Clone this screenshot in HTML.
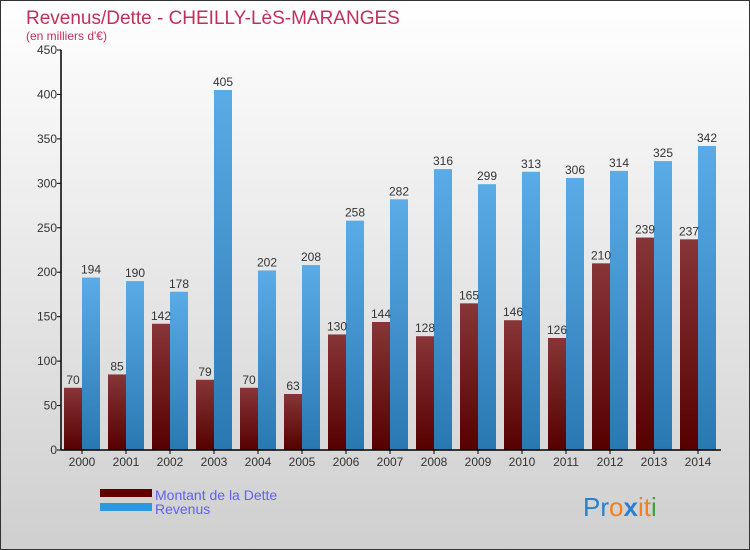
<!DOCTYPE html>
<html><head><meta charset="utf-8"><style>
body{margin:0}
#c{width:750px;height:550px;position:relative;overflow:hidden;font-family:"Liberation Sans",sans-serif}
svg text{font-family:"Liberation Sans",sans-serif}
</style></head><body>
<div id="c">
<svg id="s" width="750" height="550" xmlns="http://www.w3.org/2000/svg">
<defs>
<linearGradient id="bg" x1="0" y1="0" x2="0" y2="1"><stop offset="0" stop-color="#ffffff"/><stop offset="1" stop-color="#cfcfcf"/></linearGradient>
<linearGradient id="gd" x1="0" y1="0" x2="0" y2="1"><stop offset="0" stop-color="#883538"/><stop offset="1" stop-color="#560000"/></linearGradient>
<linearGradient id="gr" x1="0" y1="0" x2="0" y2="1"><stop offset="0" stop-color="#5aabe6"/><stop offset="1" stop-color="#2a78b2"/></linearGradient>
</defs>
<rect x="0.5" y="0.5" width="749" height="549" fill="url(#bg)" stroke="#333"/>
<text x="26" y="24" font-size="19" fill="#c0305a">Revenus/Dette - CHEILLY-LèS-MARANGES</text>
<text x="26" y="40" font-size="12" fill="#c0305a">(en milliers d'€)</text>
<g id="plot"></g>
<rect x="100" y="489" width="52" height="8" fill="#600000"/>
<rect x="100" y="503" width="52" height="8" fill="#2f97dd"/>
<text x="155" y="500" font-size="14" fill="#6060f0">Montant de la Dette</text>
<text x="155" y="514" font-size="14" fill="#6060f0">Revenus</text>
<text x="583" y="516" font-size="26"><tspan fill="#2a7fd0">Pr</tspan><tspan fill="#f08020">o</tspan><tspan fill="#2a7fd0" font-weight="bold">x</tspan><tspan fill="#f08020">it</tspan><tspan fill="#40a040">i</tspan></text>
</svg>
</div>
<script>
const years=["2000","2001","2002","2003","2004","2005","2006","2007","2008","2009","2010","2011","2012","2013","2014"];
const dette=[70,85,142,79,70,63,130,144,128,165,146,126,210,239,237];
const revenus=[194,190,178,405,202,208,258,282,316,299,313,306,314,325,342];
const ticks=[0,50,100,150,200,250,300,350,400,450];
const NS="http://www.w3.org/2000/svg";
const g=document.getElementById('plot');
const y0=450,yTop=50,vmax=450,x0=61,gw=44,bw=18;
const Y=v=>y0-(v/vmax)*(y0-yTop);
const X=i=>64+i*gw;
function mk(t,a){const e=document.createElementNS(NS,t);for(const k in a)e.setAttribute(k,a[k]);g.appendChild(e);return e;}
ticks.forEach(t=>{
 const l=mk('line',{x1:x0-4,x2:x0,y1:Y(t),y2:Y(t),stroke:'#000'});
 
 
 const tx=mk('text',{x:x0-4,y:Y(t)+4,'font-size':12,'text-anchor':'end',fill:'#333'});
 tx.textContent=t;
 
 
});
years.forEach((yr,i)=>{
 const xd=X(i),xr=X(i)+bw;
 const b1=mk('rect',{x:xd,y:Y(dette[i]),width:bw,height:y0-Y(dette[i]),fill:'url(#gd)'});
 
 
 const b2=mk('rect',{x:xr,y:Y(revenus[i]),width:bw,height:y0-Y(revenus[i]),fill:'url(#gr)'});
 
 
 const t1=mk('text',{x:xd+bw/2,y:Y(dette[i])-4,'font-size':12,'text-anchor':'middle',fill:'#333'});
 t1.textContent=dette[i];
 
 
 const t2=mk('text',{x:xr+bw/2,y:Y(revenus[i])-4,'font-size':12,'text-anchor':'middle',fill:'#333'});
 t2.textContent=revenus[i];
 
 
 const tk=mk('line',{x1:xr,x2:xr,y1:y0,y2:y0+4,stroke:'#000'});
 
 
 const xl=mk('text',{x:xr,y:y0+16,'font-size':12,'text-anchor':'middle',fill:'#333'});
 xl.textContent=yr;
 
 
});
const ya=mk('line',{x1:x0,x2:x0,y1:yTop,y2:y0,stroke:'#000','stroke-width':1.5});


const xa=mk('line',{x1:x0,x2:721,y1:y0,y2:y0,stroke:'#000','stroke-width':1.5});


</script>
</body></html>
